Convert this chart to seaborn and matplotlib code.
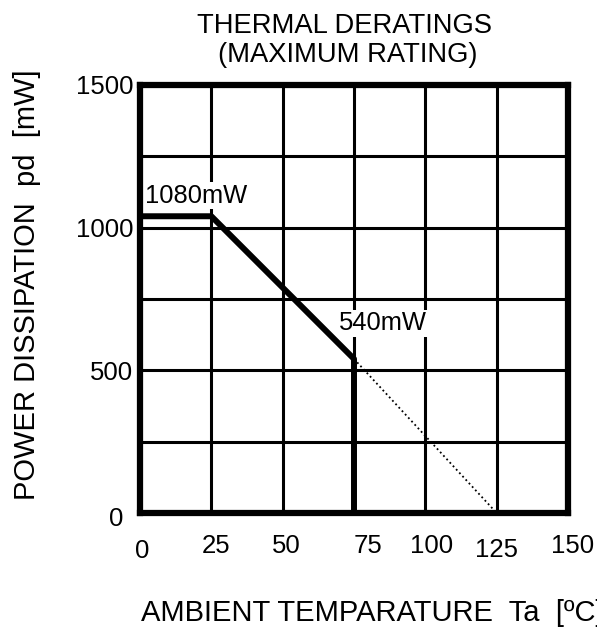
import numpy as np
import pandas as pd
import seaborn as sns
import matplotlib.pyplot as plt
from matplotlib.transforms import ScaledTranslation

# derating curve
temp = [0, 25, 75, 75]
power = [1040, 1040, 540, 0]
# dotted extension down to zero
ext_temp = [75, 125]
ext_power = [540, 0]

x_ticks = [0, 25, 50, 75, 100, 125, 150]
y_ticks = [0, 500, 1000, 1500]

sns.set_style("white")
plt.rcParams['font.family'] = ['Liberation Sans', 'DejaVu Sans']
plt.rcParams['text.color'] = 'black'
plt.rcParams['xtick.color'] = 'black'
plt.rcParams['ytick.color'] = 'black'
plt.rcParams['axes.labelcolor'] = 'black'

W, H = 597, 627
fig = plt.figure(figsize=(W / 100, H / 100), dpi=100)
ax = fig.add_axes([140 / W, 1 - 513 / H, 428 / W, 428 / H])

curve = pd.DataFrame({'temp': temp, 'power': power})
ext = pd.DataFrame({'temp': ext_temp, 'power': ext_power})

sns.lineplot(data=curve, x='temp', y='power', sort=False, estimator=None,
             color='black', linewidth=4.3, ax=ax, zorder=5)
sns.lineplot(data=ext, x='temp', y='power', sort=False, estimator=None,
             color='black', linewidth=1.3, linestyle=(0, (1, 1.6)), ax=ax, zorder=4)

ax.set_xlim(0, 150)
ax.set_ylim(0, 1500)
ax.set_xticks(x_ticks)
ax.set_yticks(y_ticks)
ax.set_yticks(np.arange(0, 1501, 250), minor=True)
ax.grid(True, which='both', axis='y', color='black', linewidth=2.2)
ax.grid(True, which='major', axis='x', color='black', linewidth=2.2)
ax.tick_params(axis='both', which='major', labelsize=18.5, length=2, width=1.5, color='black')
ax.tick_params(axis='y', which='minor', length=0)
ax.tick_params(axis='x', pad=13)
ax.tick_params(axis='y', pad=3)
for sp in ax.spines.values():
    sp.set_linewidth(4.5)
    sp.set_color('black')
    sp.set_zorder(6)

# the hand-drawn original has its tick labels a little off the grid
xt = ax.xaxis.get_major_ticks()
xt[0].set_pad(16.5)
xt[5].set_pad(16)
x_shift = [2, 5, 4, 14, 6, 0, 5]
for tick, dx in zip(xt, x_shift):
    lab = tick.label1
    lab.set_transform(lab.get_transform() + ScaledTranslation(dx / 100, 0, fig.dpi_scale_trans))
lab0 = ax.yaxis.get_major_ticks()[0].label1
lab0.set_transform(lab0.get_transform() + ScaledTranslation(-0.10, -0.04, fig.dpi_scale_trans))

ax.set_xlabel('')
ax.set_ylabel('')
fig.text(27 / W, 1 - 285 / H, 'POWER DISSIPATION  pd  [mW]', rotation=90,
         ha='center', va='center', fontsize=21)
fig.text(141 / W, 1 - 610 / H, 'AMBIENT TEMPARATURE  Ta  [ºC]',
         ha='left', va='center_baseline', fontsize=21)
fig.text(345 / W, 1 - 23 / H, 'THERMAL DERATINGS',
         ha='center', va='center_baseline', fontsize=19.7)
fig.text(348 / W, 1 - 52 / H, '(MAXIMUM RATING)',
         ha='center', va='center_baseline', fontsize=19.7)

box = dict(facecolor='white', edgecolor='none', pad=1)
ax.text(1.75, 1121, '1080mW', ha='left', va='center_baseline', fontsize=18.4,
        bbox=box, zorder=3)
ax.text(69.7, 673, '540mW', ha='left', va='center_baseline', fontsize=18.4,
        bbox=box, zorder=3)

fig.savefig('out.png', dpi=100)
